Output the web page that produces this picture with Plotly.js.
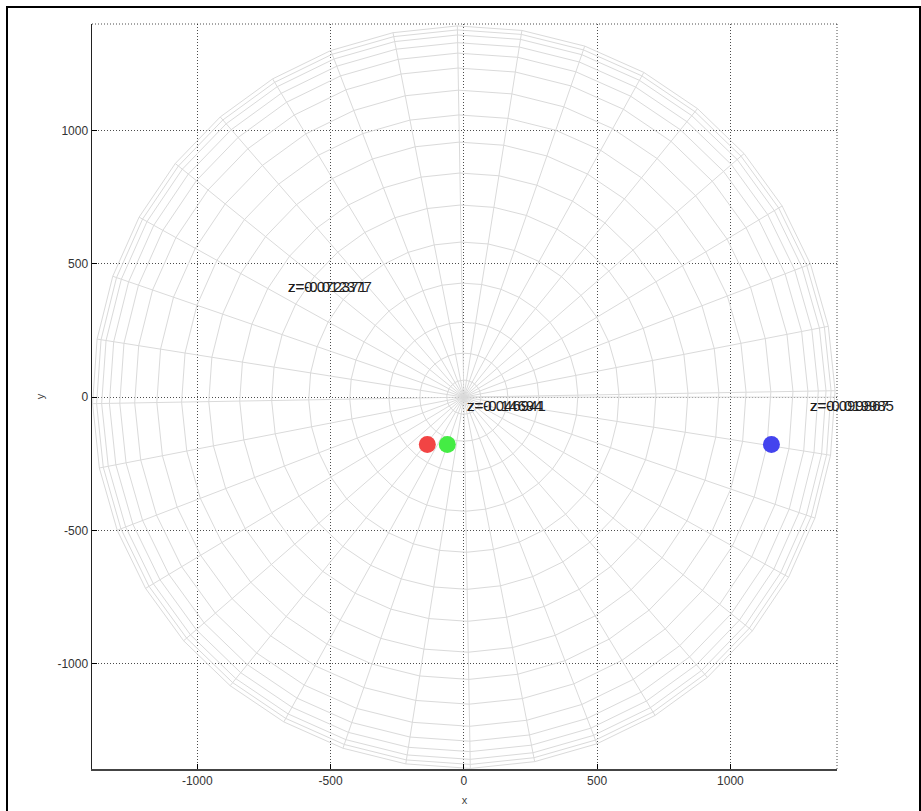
<!DOCTYPE html>
<html>
<head>
<meta charset="utf-8">
<script src="https://cdn.plot.ly/plotly-3.0.1.min.js"></script>
<style>
  html, body { margin: 0; padding: 0; background: #fff; }
  #wrap { position: relative; width: 921px; height: 811px; }
  #chart { position: absolute; left: 0; top: 0; width: 921px; height: 811px; }
  #frame { position: absolute; left: 6px; top: 6px; width: 911px; height: 810px; border: 2px solid #000; pointer-events: none; }
</style>
</head>
<body>
<div id="wrap"><div id="chart"></div><div id="frame"></div></div>
<script>
// Point data
const pointX = [-137, -62, 1154];
const pointY = [-178, -178, -178];
const pointColors = ['rgb(242,68,68)', 'rgb(68,236,68)', 'rgb(68,68,238)'];

// Text labels (overlapping pairs as in reference)
const labelX = [-662, -662, 8, 8, 1296, 1296];
const labelY = [415, 415, -32, -32, -32, -32];
const labelText = ['z=0.072371', 'z=-0.012377', 'z=0.046941', 'z=-0.14694', 'z=0.099867', 'z=-0.019985'];

// Background sphere mesh (seen from above): ring radii and spoke angles
const ringRadii = [64, 165, 281, 428, 582, 721, 841, 957, 1059, 1152, 1235, 1291, 1330, 1359, 1378, 1393];
const spokeAngles = [1, 11, 21, 31, 41, 51, 61, 71, 81, 91, 101, 111, 121, 131, 141, 151, 161, 171,
                     181, 191, 201, 211, 221, 231, 241, 251, 261, 271, 281, 291, 301, 311, 321, 331, 341, 351, 0];
const outerR = 1393;

const xTicks = [-1000, -500, 0, 500, 1000];
const yTicks = [-1000, -500, 0, 500, 1000];

// Build mesh lines
const meshX = [], meshY = [];
const polyAngles = spokeAngles.slice(0, 36);
ringRadii.forEach(r => {
  for (let i = 0; i <= polyAngles.length; i++) {
    const a = polyAngles[i % polyAngles.length] * Math.PI / 180;
    meshX.push(r * Math.cos(a));
    meshY.push(r * Math.sin(a));
  }
  meshX.push(null); meshY.push(null);
});
spokeAngles.forEach(d => {
  const a = d * Math.PI / 180;
  meshX.push(0, outerR * Math.cos(a), null);
  meshY.push(0, outerR * Math.sin(a), null);
});

const traces = [
  { x: meshX, y: meshY, mode: 'lines', type: 'scatter',
    line: { color: 'rgb(218,218,218)', width: 1 }, hoverinfo: 'skip', showlegend: false },
  { x: pointX, y: pointY, mode: 'markers', type: 'scatter',
    marker: { color: pointColors, size: 17, line: { width: 0 } }, showlegend: false }
];

const annotations = labelText.map((t, i) => ({
  x: labelX[i], y: labelY[i], xref: 'x', yref: 'y', text: t, showarrow: false,
  xanchor: 'left', yanchor: 'middle', borderpad: 0,
  font: { family: 'Liberation Sans, Arial, sans-serif', size: 15, color: 'rgb(30,30,30)' }
}));

const gridCol = 'rgba(0,0,0,0.7)';
const layout = {
  width: 921, height: 811,
  margin: { l: 92, r: 84, t: 24, b: 42 },
  paper_bgcolor: '#fff', plot_bgcolor: '#fff',
  showlegend: false,
  font: { family: 'Liberation Sans, Arial, sans-serif', size: 12, color: '#333' },
  xaxis: {
    range: [-1395, 1400], tickvals: xTicks, ticktext: xTicks.map(String),
    tickfont: { size: 12, color: '#333' },
    ticks: 'inside', ticklen: 5, tickcolor: '#000',
    showline: true, linecolor: '#444', linewidth: 1.5,
    showgrid: true, gridcolor: gridCol, griddash: '1px,2px', gridwidth: 1,
    zeroline: false,
    title: { text: 'x', font: { size: 11, color: '#444' }, standoff: 9 }
  },
  yaxis: {
    range: [-1395, 1400], tickvals: yTicks, ticktext: yTicks.map(String),
    tickfont: { size: 12, color: '#333' },
    ticks: 'inside', ticklen: 5, tickcolor: '#000',
    showline: true, linecolor: '#222', linewidth: 1.5,
    showgrid: true, gridcolor: gridCol, griddash: '1px,2px', gridwidth: 1,
    zeroline: false,
    title: { text: 'y', font: { size: 11, color: '#444' }, standoff: 10 }
  },
  shapes: [
    { type: 'line', xref: 'paper', yref: 'paper', x0: 0, x1: 1, y0: 1, y1: 1,
      line: { color: gridCol, width: 1, dash: '1px,2px' } },
    { type: 'line', xref: 'paper', yref: 'paper', x0: 1, x1: 1, y0: 0, y1: 1,
      line: { color: gridCol, width: 1, dash: '1px,2px' } }
  ],
  annotations: annotations
};

Plotly.newPlot('chart', traces, layout, { displayModeBar: false, staticPlot: true });
</script>
</body>
</html>
